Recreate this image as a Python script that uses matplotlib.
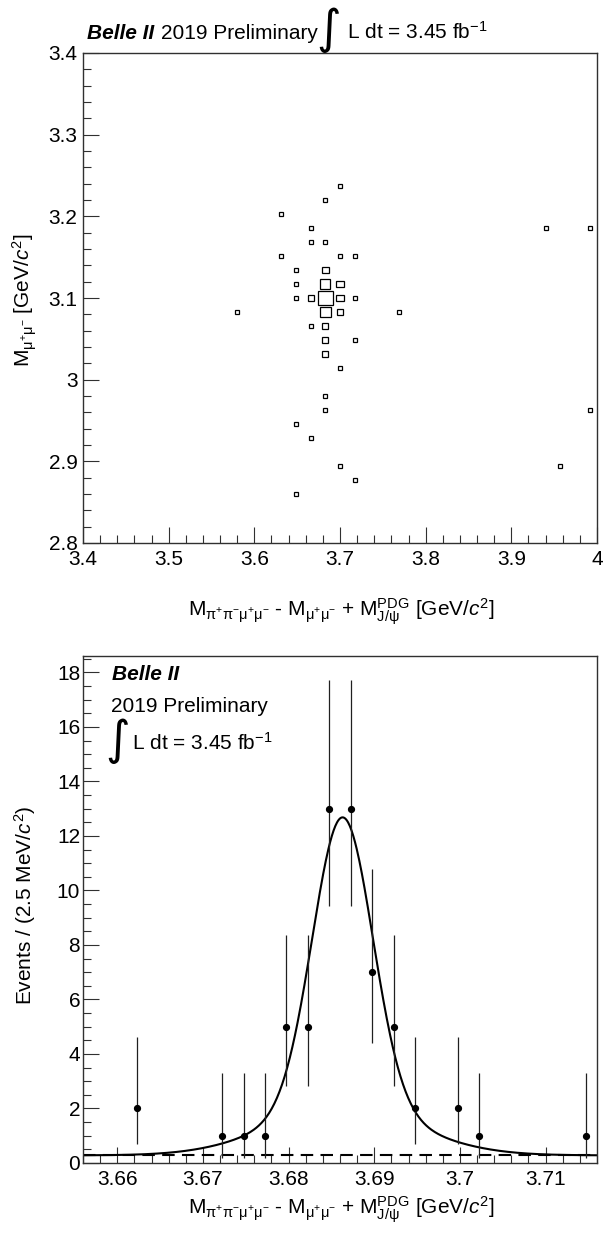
import numpy as np
import matplotlib
matplotlib.use("Agg")
import matplotlib.pyplot as plt
from matplotlib.patches import Rectangle
from matplotlib.ticker import MultipleLocator

plt.rcParams['font.family'] = ['Liberation Sans', 'DejaVu Sans']
plt.rcParams['mathtext.fontset'] = 'custom'
plt.rcParams['mathtext.rm'] = 'Liberation Sans'
plt.rcParams['mathtext.it'] = 'Liberation Sans:italic'
plt.rcParams['mathtext.bf'] = 'Liberation Sans:bold'

# --- top panel: 2D histogram, 35 x 35 bins ---
n_bins_2d = 35
dm_range = (3.4, 4.0)
mmumu_range = (2.8, 3.4)
box_ix = [17, 16, 13, 15, 31, 34, 15, 16, 13, 17, 18, 14, 16, 14, 16, 17,
          14, 15, 16, 17, 18, 10, 16, 17, 21, 15, 16, 16, 18, 16, 17, 16,
          16, 34, 14, 15, 17, 32, 18, 14]
box_iy = [25, 24, 23, 22, 22, 22, 21, 21, 20, 20, 20, 19, 19, 18, 18, 18,
          17, 17, 17, 17, 17, 16, 16, 16, 16, 15, 15, 14, 14, 13, 12, 10,
          9, 9, 8, 7, 5, 5, 4, 3]
box_counts = [1, 1, 1, 1, 1, 1, 1, 1, 1, 1, 1, 1, 3, 1, 6, 3,
              1, 2, 13, 3, 1, 1, 7, 2, 1, 1, 2, 2, 1, 2, 1, 1,
              1, 1, 1, 1, 1, 1, 1, 1]

# --- bottom panel: binned data, 2.5 MeV bins in [3.656, 3.716] ---
fit_range = (3.656, 3.716)
dm_points = [3.66225, 3.67225, 3.67475, 3.67725, 3.67975, 3.68225, 3.68475,
             3.68725, 3.68975, 3.69225, 3.69475, 3.69975, 3.70225, 3.71475]
events = [2, 1, 1, 1, 5, 5, 13, 13, 7, 5, 2, 2, 1, 1]
err_low = [1.29, 0.83, 0.83, 0.83, 2.16, 2.16, 3.58, 3.58, 2.58, 2.16, 1.29, 1.29, 0.83, 0.83]
err_high = [2.64, 2.30, 2.30, 2.30, 3.38, 3.38, 4.73, 4.73, 3.77, 3.38, 2.64, 2.64, 2.30, 2.30]

# fit result (double gaussian + flat background)
fit_mean = 3.6863
fit_sigma_core = 0.0035
fit_sigma_wide = 0.0085
fit_amp_core = 10.7
fit_amp_wide = 1.7
fit_bkg = 0.28

W, H = 605, 1241
fig = plt.figure(figsize=(W / 100, H / 100), dpi=100)


def fx(px):
    return px / W


def fy(py):
    return 1 - py / H


def style_axis(ax):
    for s in ax.spines.values():
        s.set_color('#303030')
        s.set_linewidth(1.0)
    ax.tick_params(which='both', direction='in', top=False, right=False,
                   colors='#303030', labelcolor='black', labelsize=15)
    ax.tick_params(which='major', length=11.5, width=0.8)
    ax.tick_params(which='minor', length=5.8, width=0.8)


xlab = (r'M$_{\mathrm{π^{+}π^{-}μ^{+}μ^{-}}}$ - M$_{\mathrm{μ^{+}μ^{-}}}$ + '
        r'M$^{\mathrm{PDG}}_{\mathrm{J/ψ}}$ [GeV/$c^{2}$]')

# ---------------- top panel ----------------
ax1 = fig.add_axes([fx(83), fy(543), fx(597 - 83), (543 - 53) / H])
bw_x = (dm_range[1] - dm_range[0]) / n_bins_2d
bw_y = (mmumu_range[1] - mmumu_range[0]) / n_bins_2d
cmax = max(box_counts)
for ix, iy, c in zip(box_ix, box_iy, box_counts):
    r = np.sqrt(c / cmax)
    xc = dm_range[0] + (ix + 0.5) * bw_x
    yc = mmumu_range[0] + (iy + 0.5) * bw_y
    ax1.add_patch(Rectangle((xc - 0.5 * r * bw_x, yc - 0.5 * r * bw_y),
                            r * bw_x, r * bw_y, fill=False,
                            edgecolor='black', linewidth=0.9))
ax1.set_xlim(*dm_range)
ax1.set_ylim(*mmumu_range)
ax1.xaxis.set_major_locator(MultipleLocator(0.1))
ax1.xaxis.set_minor_locator(MultipleLocator(0.02))
ax1.yaxis.set_major_locator(MultipleLocator(0.1))
ax1.yaxis.set_minor_locator(MultipleLocator(0.02))
ax1.xaxis.set_major_formatter(plt.FuncFormatter(lambda v, p: f'{v:g}'))
ax1.yaxis.set_major_formatter(plt.FuncFormatter(lambda v, p: f'{v:g}'))
style_axis(ax1)
ax1.tick_params(axis='x', pad=5)
ax1.tick_params(axis='y', pad=4)

fig.text(fx(341), fy(612), xlab, fontsize=15, ha='center', va='center')
fig.text(fx(25), fy(300), r'M$_{\mathrm{μ^{+}μ^{-}}}$ [GeV/$c^{2}$]', fontsize=15,
         rotation=90, ha='center', va='center')

# header above top panel
fig.text(fx(87), fy(39), 'Belle II', fontsize=15, fontweight='bold',
         style='italic', ha='left', va='baseline')
fig.text(fx(161), fy(39), '2019 Preliminary', fontsize=15, ha='left', va='baseline')
fig.text(fx(329), fy(30), '∫', family='DejaVu Sans', fontsize=34,
         ha='center', va='center')
fig.text(fx(347), fy(39), r'L dt = 3.45 fb$^{-1}$', fontsize=15,
         ha='left', va='baseline')

# ---------------- bottom panel ----------------
ax2 = fig.add_axes([fx(83), fy(1163), fx(597 - 83), (1163 - 656) / H])
xs = np.linspace(fit_range[0], fit_range[1], 600)
curve = (fit_bkg
         + fit_amp_core * np.exp(-0.5 * ((xs - fit_mean) / fit_sigma_core) ** 2)
         + fit_amp_wide * np.exp(-0.5 * ((xs - fit_mean) / fit_sigma_wide) ** 2))
ax2.plot(xs, np.full_like(xs, fit_bkg), color='black', lw=1.5,
         linestyle=(0, (6, 3.5)))
ax2.plot(xs, curve, color='black', lw=1.5)
ax2.errorbar(dm_points, events, yerr=[err_low, err_high], fmt='o',
             color='black', ecolor='#202020', elinewidth=0.9, markersize=4.2,
             capsize=0)
ax2.set_xlim(*fit_range)
ax2.set_ylim(0, 18.6)
ax2.xaxis.set_major_locator(MultipleLocator(0.01))
ax2.xaxis.set_minor_locator(MultipleLocator(0.002))
ax2.yaxis.set_major_locator(MultipleLocator(2))
ax2.yaxis.set_minor_locator(MultipleLocator(0.5))
ax2.xaxis.set_major_formatter(plt.FuncFormatter(lambda v, p: f'{v:g}'))
style_axis(ax2)
ax2.tick_params(axis='x', pad=5)
ax2.tick_params(axis='y', pad=2)

fig.text(fx(341), fy(1210), xlab, fontsize=15, ha='center', va='center')
fig.text(fx(25), fy(905), r'Events / (2.5 MeV/$c^{2}$)', fontsize=15,
         rotation=90, ha='center', va='center')

fig.text(fx(112), fy(680), 'Belle II', fontsize=15, fontweight='bold',
         style='italic', ha='left', va='baseline')
fig.text(fx(111), fy(712), '2019 Preliminary', fontsize=15, ha='left', va='baseline')
fig.text(fx(118), fy(741), '∫', family='DejaVu Sans', fontsize=34,
         ha='center', va='center')
fig.text(fx(132), fy(750), r'L dt = 3.45 fb$^{-1}$', fontsize=15,
         ha='left', va='baseline')

fig.savefig('out.png', dpi=100)
